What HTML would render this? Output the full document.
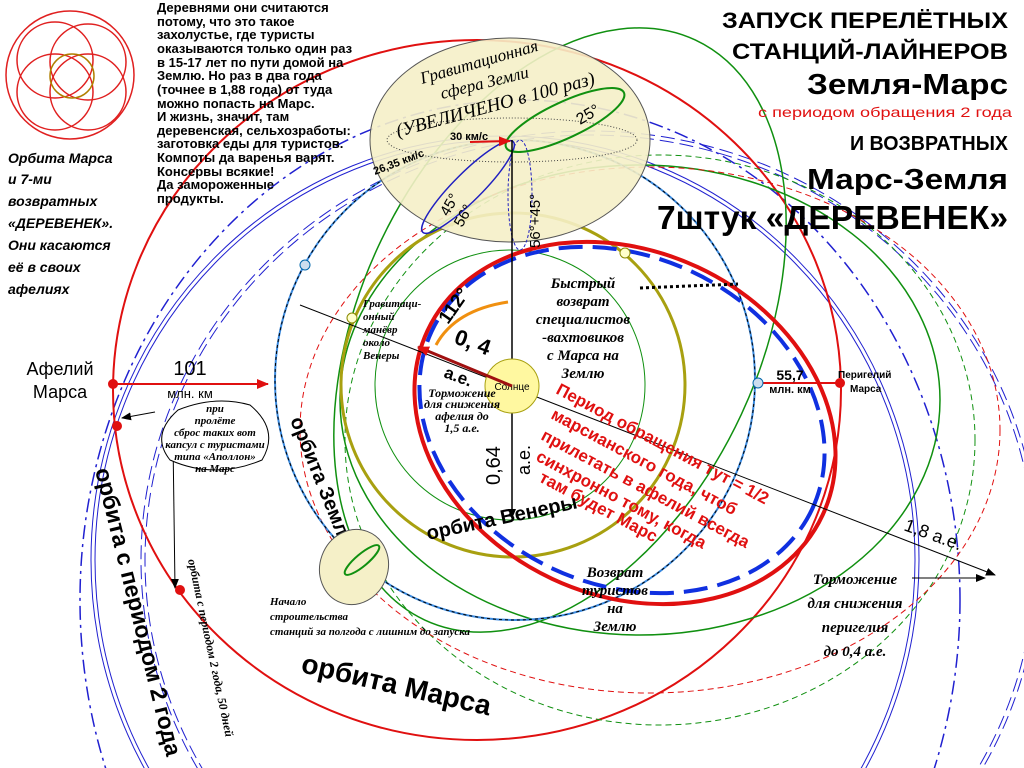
<!DOCTYPE html>
<html><head><meta charset="utf-8"><style>
body{margin:0;background:#fff}
svg{display:block}
text{font-family:"Liberation Sans",sans-serif;font-weight:bold}
.s{font-family:"Liberation Serif",serif;font-style:italic;font-weight:bold}
.n{font-weight:normal}
.sv{font-family:"Liberation Serif",serif;font-style:italic;font-weight:normal}
</style></head><body>
<svg width="1024" height="768" viewBox="0 0 1024 768" xmlns="http://www.w3.org/2000/svg">
<defs><marker id="a" markerUnits="userSpaceOnUse" markerWidth="10" markerHeight="8" refX="9" refY="4" orient="auto"><path d="M0 0L10 4L0 8z" fill="#000"/></marker>
<marker id="r" markerUnits="userSpaceOnUse" markerWidth="12" markerHeight="10" refX="11" refY="5" orient="auto"><path d="M0 0L12 5L0 10z" fill="#e01010"/></marker></defs>
<rect width="1024" height="768" fill="#fff"/>
<g fill="none" stroke="#e02020" stroke-width="1.5">
<circle cx="70" cy="75" r="64"/>
<circle cx="55" cy="60" r="38"/><circle cx="88" cy="62" r="38"/><circle cx="55" cy="92" r="38"/><circle cx="88" cy="92" r="38"/>
<circle cx="72" cy="76" r="22" stroke="#b08000"/>
</g>
<ellipse cx="520" cy="600" rx="440" ry="500" fill="none" stroke="#2020d0" stroke-width="1.5" stroke-dasharray="14,5,3,5"/>
<ellipse cx="505" cy="560" rx="410" ry="420" fill="none" stroke="#2020d0" stroke-width="1"/>
<ellipse cx="505" cy="560" rx="414" ry="424" fill="none" stroke="#2020d0" stroke-width="1"/>
<ellipse cx="590" cy="560" rx="445" ry="425" fill="none" stroke="#2020d0" stroke-width="1" stroke-dasharray="14,6"/>
<ellipse cx="590" cy="560" rx="449" ry="429" fill="none" stroke="#2020d0" stroke-width="1" stroke-dasharray="14,6"/>
<ellipse cx="477" cy="390" rx="364" ry="350" fill="none" stroke="#e01010" stroke-width="2"/>
<ellipse cx="640" cy="400" rx="300" ry="235" fill="none" stroke="#109010" stroke-width="1.5"/>
<ellipse cx="660" cy="440" rx="315" ry="285" fill="none" stroke="#109010" stroke-width="1" stroke-dasharray="6,4"/>
<ellipse cx="560" cy="330" rx="200" ry="320" transform="rotate(25 560 330)" fill="none" stroke="#109010" stroke-width="1.5"/>
<ellipse cx="650" cy="430" rx="350" ry="263" fill="none" stroke="#e01010" stroke-width="1" stroke-dasharray="6,4"/>
<circle cx="515" cy="380" r="240" fill="none" stroke="#3a8ae0" stroke-width="2"/>
<circle cx="515" cy="380" r="240" fill="none" stroke="#000" stroke-width="1" stroke-dasharray="3,3"/>
<circle cx="513" cy="385" r="172" fill="none" stroke="#a8a010" stroke-width="3"/>
<circle cx="510" cy="385" r="135" fill="none" stroke="#109010" stroke-width="1"/>
<ellipse cx="625" cy="423" rx="218" ry="172" transform="rotate(25 625 423)" fill="none" stroke="#e01010" stroke-width="4"/>
<ellipse cx="622" cy="420" rx="210" ry="164" transform="rotate(25 622 420)" fill="none" stroke="#1030e0" stroke-width="4" stroke-dasharray="24,10"/>
<ellipse cx="510" cy="140" rx="140" ry="102" fill="#f5f0c8" fill-opacity="0.9" stroke="#555"/>
<ellipse cx="512" cy="140" rx="125" ry="22" fill="none" stroke="#444" stroke-dasharray="1,2"/>
<ellipse cx="468" cy="187" rx="64" ry="14" transform="rotate(-45 468 187)" fill="none" stroke="#2020c0" stroke-width="1.5"/>
<ellipse cx="520" cy="195" rx="12" ry="55" fill="none" stroke="#2020c0" stroke-dasharray="3,2"/>
<ellipse cx="565" cy="120" rx="65" ry="18" transform="rotate(-25 565 120)" fill="none" stroke="#109010" stroke-width="2"/>
<line x1="470" y1="142" x2="510" y2="141" stroke="#e01010" stroke-width="2" marker-end="url(#r)"/>
<text x="422" y="84" class="sv" font-size="17" transform="rotate(-16 422 84)">Гравитационная</text>
<text x="442" y="99" class="sv" font-size="17" transform="rotate(-14 442 99)">сфера Земли</text>
<text x="398" y="137" class="sv" font-size="19" transform="rotate(-15 398 137)">(УВЕЛИЧЕНО в 100 раз)</text>
<text x="450" y="140" font-size="11">30 км/с</text>
<text x="375" y="175" font-size="11" transform="rotate(-21 375 175)">26,35 км/с</text>
<text x="580" y="125" font-size="16" class="n" transform="rotate(-30 580 125)">25°</text>
<text x="448" y="217" font-size="15" class="n" transform="rotate(-60 448 217)">45°</text>
<text x="462" y="228" font-size="15" class="n" transform="rotate(-60 462 228)">56°</text>
<text x="540" y="248" font-size="15" class="n" transform="rotate(-90 540 248)">56°+45°</text>
<line x1="300" y1="305" x2="995" y2="575" stroke="#000" marker-end="url(#a)"/>
<line x1="512" y1="140" x2="512" y2="518" stroke="#000" stroke-width="1.5" marker-end="url(#a)"/>
<circle cx="512" cy="386" r="27" fill="#fff8a0" stroke="#a8a010"/>
<text x="512" y="390" font-size="10" text-anchor="middle" class="n">Солнце</text>
<line x1="512" y1="386" x2="418" y2="347" stroke="#a01010" stroke-width="3" marker-end="url(#r)"/>
<line x1="113" y1="384" x2="268" y2="384" stroke="#e01010" stroke-width="2" marker-end="url(#r)"/>
<line x1="760" y1="383" x2="838" y2="383" stroke="#e01010" stroke-width="2"/>
<line x1="640" y1="288" x2="738" y2="284" stroke="#000" stroke-width="3" stroke-dasharray="3,3"/>
<line x1="173" y1="440" x2="175" y2="588" stroke="#000" marker-end="url(#a)"/>
<line x1="155" y1="412" x2="122" y2="418" stroke="#000" marker-end="url(#a)"/>
<line x1="912" y1="578" x2="985" y2="578" stroke="#000" marker-end="url(#a)"/>
<circle cx="113" cy="384" r="5" fill="#e01010"/><circle cx="117" cy="426" r="5" fill="#e01010"/><circle cx="180" cy="590" r="5" fill="#e01010"/><circle cx="840" cy="383" r="5" fill="#e01010"/>
<circle cx="305" cy="265" r="5" fill="#cde" stroke="#06a"/><circle cx="625" cy="253" r="5" fill="#ffc" stroke="#880"/><circle cx="352" cy="318" r="5" fill="#ffc" stroke="#880"/><circle cx="758" cy="383" r="5" fill="#cde" stroke="#06a"/>
<path d="M436 345 Q455 310 508 302" fill="none" stroke="#f09010" stroke-width="3"/>
<text x="448" y="325" font-size="19" transform="rotate(-55 448 325)">112°</text>
<text x="453" y="343" font-size="22" transform="rotate(20 453 343)">0, 4</text>
<text x="443" y="377" font-size="17" transform="rotate(20 443 377)">а.е.</text>
<text x="500" y="485" font-size="20" class="n" transform="rotate(-90 500 485)">0,64</text>
<text x="530" y="475" font-size="18" class="n" transform="rotate(-90 530 475)">а.е.</text>
<g font-size="13">
<text x="157" y="12">Деревнями они считаются</text><text x="157" y="26">потому, что это такое</text>
<text x="157" y="39">захолустье, где туристы</text><text x="157" y="53">оказываются только один  раз</text>
<text x="157" y="67">в 15-17 лет по пути домой на</text><text x="157" y="80">Землю. Но раз в два года</text>
<text x="157" y="94">(точнее в 1,88 года) от туда</text><text x="157" y="108">можно попасть на Марс.</text>
<text x="157" y="121">   И жизнь, значит, там</text><text x="157" y="135">деревенская, сельхозработы:</text>
<text x="157" y="148">заготовка еды для туристов.</text><text x="157" y="162">Компоты да варенья варят.</text>
<text x="157" y="176">Консервы всякие!</text><text x="157" y="189">Да замороженные</text><text x="157" y="203">продукты.</text>
</g>
<g font-size="14" font-style="italic">
<text x="8" y="163">Орбита Марса</text><text x="8" y="184">и 7-ми</text><text x="8" y="206">возвратных</text>
<text x="8" y="228">«ДЕРЕВЕНЕК».</text><text x="8" y="250">Они касаются</text><text x="8" y="272">её в своих</text><text x="8" y="294">афелиях</text>
</g>
<g>
<text x="722" y="28" font-size="22" textLength="286" lengthAdjust="spacingAndGlyphs">ЗАПУСК ПЕРЕЛЁТНЫХ</text>
<text x="732" y="59" font-size="22" textLength="276" lengthAdjust="spacingAndGlyphs">СТАНЦИЙ-ЛАЙНЕРОВ</text>
<text x="807" y="94" font-size="29" textLength="201" lengthAdjust="spacingAndGlyphs">Земля-Марс</text>
<text x="758" y="117" font-size="14" fill="#e01010" class="n" textLength="254" lengthAdjust="spacingAndGlyphs">с периодом обращения 2 года</text>
<text x="850" y="150" font-size="20" textLength="158" lengthAdjust="spacingAndGlyphs">И ВОЗВРАТНЫХ</text>
<text x="807" y="189" font-size="29" textLength="201" lengthAdjust="spacingAndGlyphs">Марс-Земля</text>
<text x="657" y="229" font-size="33" textLength="351" lengthAdjust="spacingAndGlyphs">7штук «ДЕРЕВЕНЕК»</text>
</g>
<text x="60" y="375" font-size="18" text-anchor="middle" class="n">Афелий</text>
<text x="60" y="398" font-size="18" text-anchor="middle" class="n">Марса</text>
<text x="190" y="375" font-size="20" text-anchor="middle" class="n">101</text>
<text x="190" y="398" font-size="13" text-anchor="middle" class="n">млн. км</text>
<text x="790" y="380" font-size="14" text-anchor="middle">55,7</text>
<text x="790" y="393" font-size="11" text-anchor="middle">млн. км</text>
<text x="838" y="378" font-size="10">Перигелий</text><text x="850" y="392" font-size="10">Марса</text>
<path d="M178 410 Q215 395 250 405 Q280 430 262 460 Q215 480 170 460 Q150 435 178 410z" fill="#fff" stroke="#000"/>
<g font-size="11" text-anchor="middle">
<text x="215" y="412" class="s">при</text><text x="215" y="424" class="s">пролёте</text><text x="215" y="436" class="s">сброс таких вот</text><text x="215" y="448" class="s">капсул с туристами</text><text x="215" y="460" class="s">типа «Аполлон»</text><text x="215" y="472" class="s">на Марс</text>
</g>
<g font-size="15" text-anchor="middle">
<text class="s" x="583" y="288">Быстрый</text><text class="s" x="583" y="306">возврат</text><text class="s" x="583" y="324">специалистов</text><text class="s" x="583" y="342">-вахтовиков</text><text class="s" x="583" y="360">с Марса на</text><text class="s" x="583" y="378">Землю</text>
<text class="s" x="615" y="577">Возврат</text><text class="s" x="615" y="595">туристов</text><text class="s" x="615" y="613">на</text><text class="s" x="615" y="631">Землю</text>
<text class="s" x="855" y="584">Торможение</text><text class="s" x="855" y="608">для снижения</text><text class="s" x="855" y="632">перигелия</text><text class="s" x="855" y="656">до 0,4 а.е.</text>
</g>
<g font-size="11">
<text class="s" x="363" y="307">Гравитаци-</text><text class="s" x="363" y="320">онный</text><text class="s" x="363" y="333">манёвр</text><text class="s" x="363" y="346">около</text><text class="s" x="363" y="359">Венеры</text>
<text class="s" x="270" y="605">Начало</text><text class="s" x="270" y="620">строительства</text><text class="s" x="270" y="635">станций за полгода с лишним до запуска</text>
</g>
<g font-size="12" text-anchor="middle">
<text class="s" x="462" y="397">Торможение</text><text class="s" x="462" y="408">для снижения</text><text class="s" x="462" y="420">афелия до</text><text class="s" x="462" y="432">1,5 а.е.</text>
</g>
<g fill="#e01010" font-size="17">
<text x="555" y="393" transform="rotate(28 555 393)">Период обращения тут = 1/2</text>
<text x="550" y="418" transform="rotate(28 550 418)">марсианского года, чтоб</text>
<text x="540" y="439" transform="rotate(28 540 439)">прилетать в афелий всегда</text>
<text x="535" y="460" transform="rotate(28 535 460)">синхронно тому, когда</text>
<text x="538" y="481" transform="rotate(28 538 481)">там будет Марс</text>
</g>
<text x="428" y="540" font-size="20" transform="rotate(-12 428 540)">орбита Венеры</text>
<text x="290" y="420" font-size="20" transform="rotate(68 290 420)">орбита Земли</text>
<text x="95" y="470" font-size="23" transform="rotate(76 95 470)">орбита с периодом 2 года</text>
<text x="188" y="560" font-size="12" class="s" transform="rotate(78 188 560)">орбита с периодом 2 года, 50 дней</text>
<text x="300" y="672" font-size="28" transform="rotate(13 300 672)">орбита Марса</text>
<text x="903" y="530" font-size="18" class="n" transform="rotate(20 903 530)">1,8 а.е.</text>
<ellipse cx="354" cy="567" rx="34" ry="38" transform="rotate(20 354 567)" fill="#f5f0c8" stroke="#555"/>
<ellipse cx="362" cy="560" rx="6" ry="22" transform="rotate(50 362 560)" fill="none" stroke="#109010" stroke-width="2"/>
</svg>
</body></html>
